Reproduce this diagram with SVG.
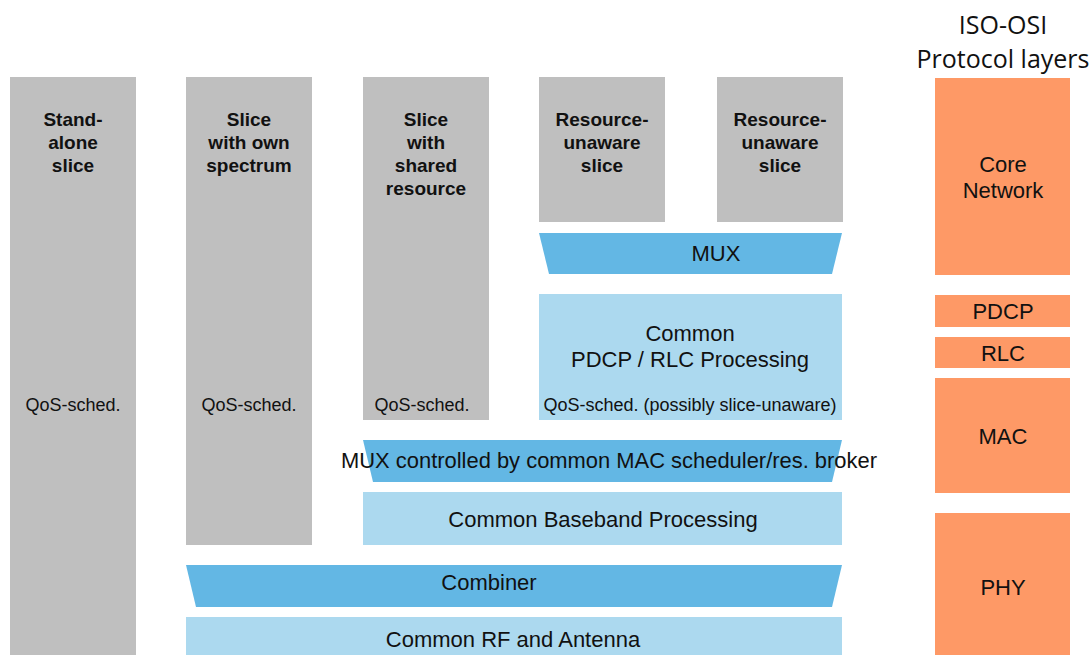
<svg xmlns="http://www.w3.org/2000/svg" width="1091" height="655" viewBox="0 0 1091 655">
<style>
.g{fill:#bfbfbf}
.m{fill:#63b7e4}
.l{fill:#acd9ef}
.o{fill:#fe9966}
text{font-family:"Liberation Sans",Arial,sans-serif;fill:#111;text-anchor:middle}
.b{font-weight:bold;font-size:19px}
.q{font-size:18px}
.t{font-size:22px}
.h{font-family:"Open Sans","Noto Sans",sans-serif;font-size:25px}
</style>
<rect width="1091" height="655" fill="#fff"/>
<g id="standalone">
<rect class="g" x="10" y="77" width="126" height="578"/>
<text class="b" x="73" y="126">Stand-</text>
<text class="b" x="73" y="149">alone</text>
<text class="b" x="73" y="172">slice</text>
<text class="q" x="73" y="411">QoS-sched.</text>
</g>
<g id="ownspectrum">
<rect class="g" x="186" y="77" width="126" height="468"/>
<text class="b" x="249" y="126">Slice</text>
<text class="b" x="249" y="149">with own</text>
<text class="b" x="249" y="172">spectrum</text>
<text class="q" x="249" y="411">QoS-sched.</text>
</g>
<g id="shared">
<rect class="g" x="363" y="77" width="126" height="343"/>
<text class="b" x="426" y="126">Slice</text>
<text class="b" x="426" y="149">with</text>
<text class="b" x="426" y="172">shared</text>
<text class="b" x="426" y="195">resource</text>
<text class="q" x="422" y="411">QoS-sched.</text>
</g>
<g id="unaware1">
<rect class="g" x="539" y="77" width="126" height="145"/>
<text class="b" x="602" y="126">Resource-</text>
<text class="b" x="602" y="149">unaware</text>
<text class="b" x="602" y="172">slice</text>
</g>
<g id="unaware2">
<rect class="g" x="717" y="77" width="126" height="145"/>
<text class="b" x="780" y="126">Resource-</text>
<text class="b" x="780" y="149">unaware</text>
<text class="b" x="780" y="172">slice</text>
</g>
<g id="mux">
<polygon class="m" points="539,233 842,233 832,274 549,274"/>
<text class="t" x="716" y="261">MUX</text>
</g>
<g id="pdcprlc">
<rect class="l" x="539" y="294" width="303" height="126"/>
<text class="t" x="690" y="341">Common</text>
<text class="t" x="690" y="367">PDCP / RLC Processing</text>
<text class="q" x="690" y="411">QoS-sched. (possibly slice-unaware)</text>
</g>
<g id="macmux">
<polygon class="m" points="363,440 842,440 832,482 373,482"/>
<text class="t" x="609" y="468" textLength="536" lengthAdjust="spacingAndGlyphs">MUX controlled by common MAC scheduler/res. broker</text>
</g>
<g id="baseband">
<rect class="l" x="363" y="492" width="479" height="53"/>
<text class="t" x="603" y="527">Common Baseband Processing</text>
</g>
<g id="combiner">
<polygon class="m" points="186,565 842,565 832,607 196,607"/>
<text class="t" x="489" y="590">Combiner</text>
</g>
<g id="rf">
<rect class="l" x="186" y="617" width="656" height="38"/>
<text class="t" x="513" y="647">Common RF and Antenna</text>
</g>
<g id="layers">
<text class="h" x="1003" y="34">ISO-OSI</text>
<text class="h" x="1003" y="68">Protocol layers</text>
</g>
<g id="core">
<rect class="o" x="935" y="78" width="135" height="197"/>
<text class="t" x="1003" y="172">Core</text>
<text class="t" x="1003" y="198">Network</text>
</g>
<g id="pdcp">
<rect class="o" x="935" y="295" width="135" height="32"/>
<text class="t" x="1003" y="319">PDCP</text>
</g>
<g id="rlc">
<rect class="o" x="935" y="337" width="135" height="31"/>
<text class="t" x="1003" y="361">RLC</text>
</g>
<g id="mac">
<rect class="o" x="935" y="378" width="135" height="115"/>
<text class="t" x="1003" y="444">MAC</text>
</g>
<g id="phy">
<rect class="o" x="935" y="513" width="135" height="142"/>
<text class="t" x="1003" y="595">PHY</text>
</g>
<g id="connectors"/>
</svg>
